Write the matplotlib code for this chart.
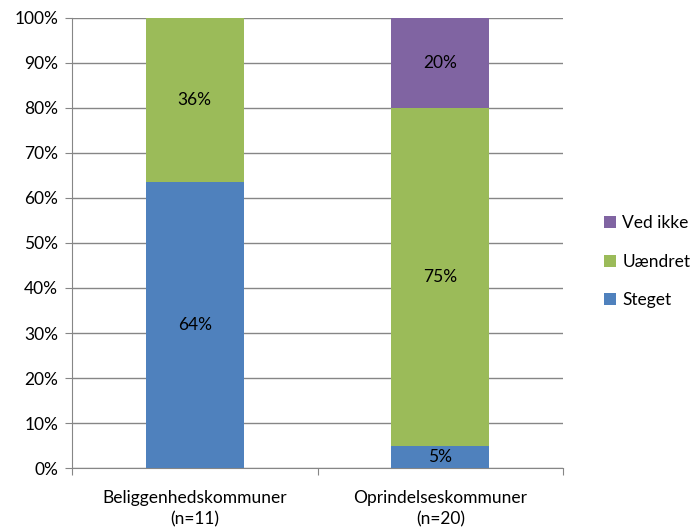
import matplotlib.pyplot as plt
import numpy as np

plt.rcParams['font.family'] = ['Lato', 'DejaVu Sans']

categories = ['Beliggenhedskommuner\n(n=11)', 'Oprindelseskommuner\n(n=20)']
steget = [63.6, 5]
uaendret = [36.4, 75]
ved_ikke = [0, 20]
labels_steget = ['64%', '5%']
labels_uaendret = ['36%', '75%']
labels_ved_ikke = ['', '20%']

fs = 12.5
fig = plt.figure(figsize=(6.9, 5.29), dpi=100)
ax = fig.add_axes([0.1043, 0.1153, 0.816 - 0.1043, 0.966 - 0.1153])

x = np.arange(len(categories))
w = 0.4
grid_col = '#868686'

b1 = ax.bar(x, steget, w, color='#4F81BD', label='Steget', zorder=3)
b2 = ax.bar(x, uaendret, w, bottom=steget, color='#9BBB59', label='Uændret', zorder=3)
bottom3 = np.array(steget) + np.array(uaendret)
b3 = ax.bar(x, ved_ikke, w, bottom=bottom3, color='#8064A2', label='Ved ikke', zorder=3)

for bars, labs in [(b1, labels_steget), (b2, labels_uaendret), (b3, labels_ved_ikke)]:
    ax.bar_label(bars, labels=labs, label_type='center', fontsize=fs, color='black')

ax.set_xlim(-0.5, 1.5)
ax.set_ylim(0, 100)
ax.set_yticks(np.arange(0, 101, 10))
ax.set_yticklabels([f'{v}%' for v in range(0, 101, 10)], fontsize=fs)
ax.yaxis.grid(True, color=grid_col, linewidth=1, zorder=0)

ax.set_xticks([-0.5, 0.5, 1.5])
ax.set_xticklabels([])
ax.set_xticks(x, minor=True)
ax.set_xticklabels(categories, minor=True, fontsize=fs, linespacing=1.35)
ax.tick_params(axis='x', which='minor', length=0, pad=16)
ax.tick_params(axis='x', which='major', length=5, color=grid_col, direction='out')
ax.tick_params(axis='y', length=5, color=grid_col, direction='out', pad=5)

for s in ['top', 'right']:
    ax.spines[s].set_visible(False)
for s in ['left', 'bottom']:
    ax.spines[s].set_color(grid_col)

handles = [b3, b2, b1]
fig.legend(handles, ['Ved ikke', 'Uændret', 'Steget'], loc='center left',
           bbox_to_anchor=(0.853, 0.505), frameon=False, fontsize=fs,
           handlelength=0.7, handleheight=0.7, handletextpad=0.35, labelspacing=1.3)

fig.savefig('out.png', dpi=100)
